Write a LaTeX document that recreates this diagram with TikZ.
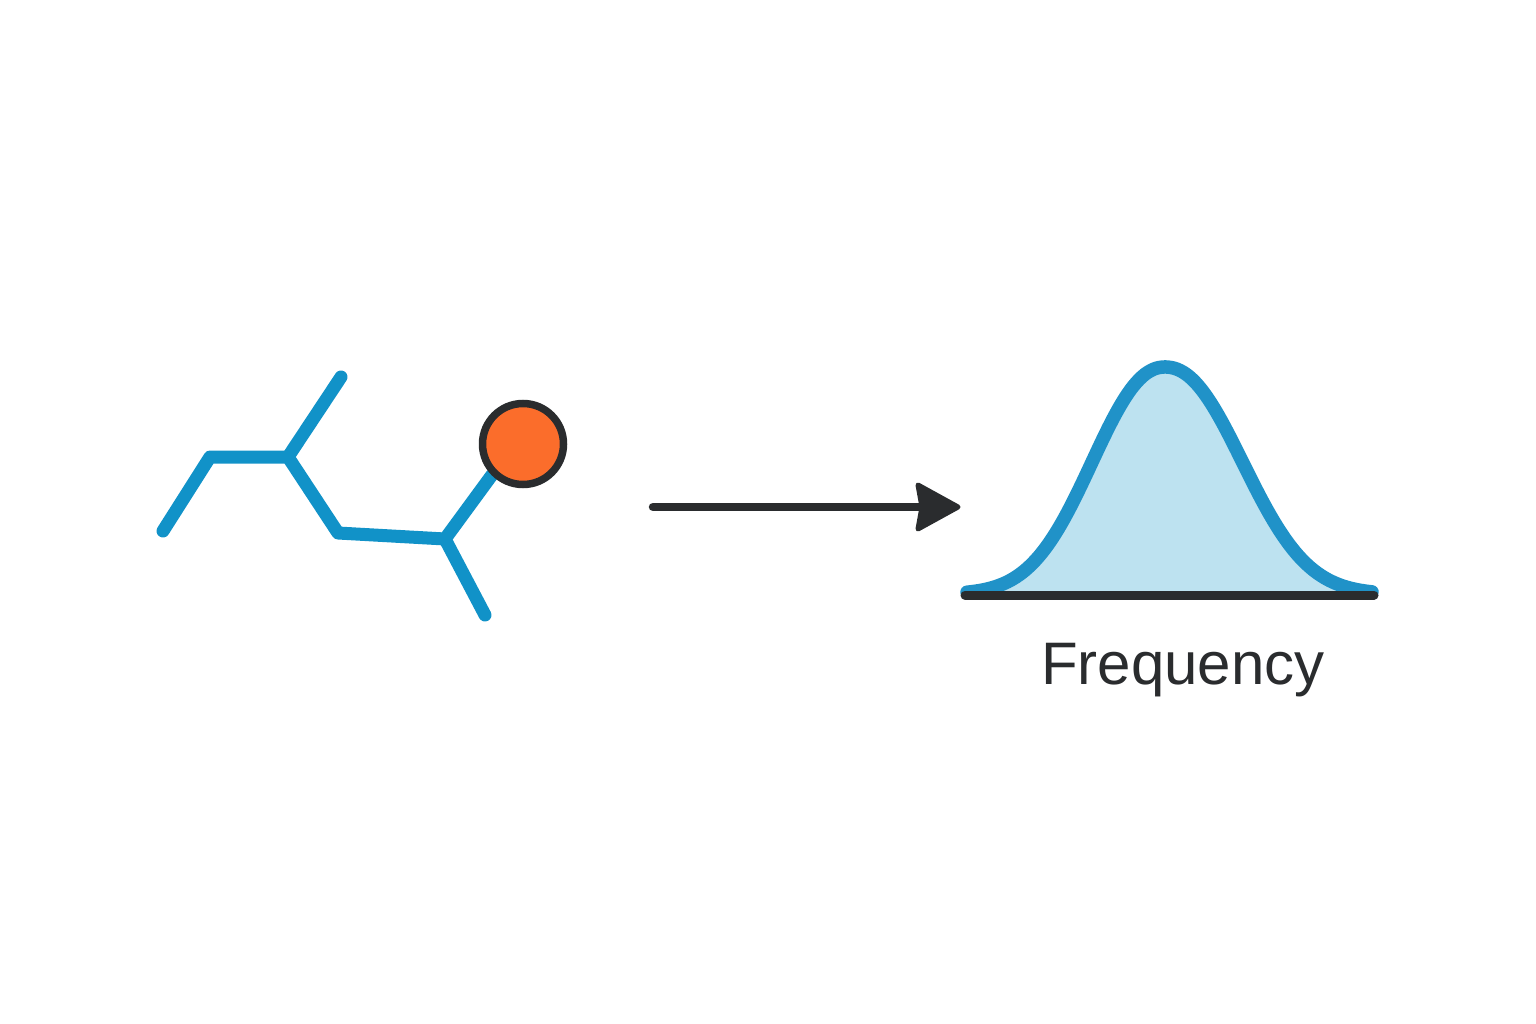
\documentclass[tikz,border=0pt]{standalone}
\usepackage{fontspec}
\usetikzlibrary{backgrounds}
\setmainfont{Liberation Sans}
\definecolor{chainblue}{HTML}{1192C8}
\definecolor{bellblue}{HTML}{2092C8}
\definecolor{bellfill}{HTML}{BDE2F0}
\definecolor{ink}{HTML}{2A2C2E}
\definecolor{ballorange}{HTML}{FB6D2B}
\tikzset{
  chain/.style={draw=chainblue,line width=13pt,line cap=round,line join=round},
  ball/.style={circle,draw=ink,fill=ballorange,line width=7.5pt,minimum size=81pt,inner sep=0pt},
  shaft/.style={draw=ink,line width=8.5pt,line cap=round},
  headtip/.style={fill=ink,draw=ink,line width=5pt,line join=round},
  bellline/.style={draw=bellblue,line width=13.5pt,line cap=round,line join=round},
  axisline/.style={draw=ink,line width=9pt,line cap=round},
  caption/.style={text=ink,font=\fontsize{60}{60}\selectfont,anchor=base,inner sep=0pt},
  declare function={bellyl(\t)=594-227*exp(-pow((abs(\t-1165)+0.5)/97,2.2)); bellyr(\t)=594-227*exp(-pow((abs(\t-1165)+0.5)/103,2.2));}
}
\begin{document}
\begin{tikzpicture}[x=1pt,y=-1pt]
\useasboundingbox (0,0) rectangle (1536,1024);
% chain
\coordinate (c1) at (163,531);
\coordinate (c2) at (210,457);
\coordinate (c3) at (288,457);
\coordinate (c4) at (338,533);
\coordinate (c5) at (445,539);
\coordinate (c6) at (341,377);
\coordinate (c7) at (485,615);
\node[ball] (b) at (523,444) {};
\begin{scope}[on background layer]
\draw[chain] (c1) -- (c2) -- (c3) -- (c4) -- (c5) -- (c7);
\draw[chain] (c3) -- (c6);
\draw[chain] (c5) -- (b.225);
\end{scope}
% arrow
\coordinate (a1) at (653,507);
\coordinate (a2) at (922,507);
\draw[shaft] (a1) -- (a2);
\coordinate (t1) at (958,507);
\coordinate (t2) at (918,485);
\coordinate (t3) at (922,507);
\coordinate (t4) at (918,529);
\draw[headtip] (t1) -- (t2) -- (t3) -- (t4) -- cycle;
% bell
\fill[bellfill] plot[domain=967:1165,samples=70,smooth] (\x,{bellyl(\x)}) -- plot[domain=1165:1372,samples=70,smooth] (\x,{bellyr(\x)}) -- cycle;
\draw[bellline] plot[domain=967:1165,samples=70,smooth] (\x,{bellyl(\x)}) -- plot[domain=1165:1372,samples=70,smooth] (\x,{bellyr(\x)});
\coordinate (x1) at (965,595);
\coordinate (x2) at (1374,595);
\draw[axisline] (x1) -- (x2);
\node[caption] (f) at (1183,684) {Frequency};
\end{tikzpicture}
\end{document}
